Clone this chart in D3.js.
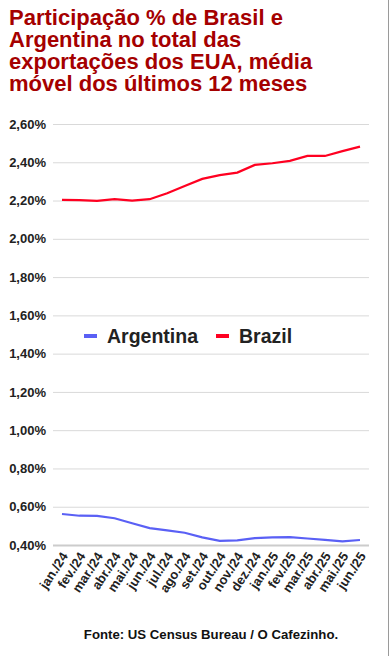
<!DOCTYPE html>
<meta charset="utf-8">
<style>
  body { margin: 0; background: #fff; }
  svg { font-family: "Liberation Sans", Arial, sans-serif; display: block; }
  .grid line { stroke: #d9d9d9; stroke-width: 1; }
  .tick text { font-weight: bold; fill: #222; }
</style>
<svg id="chart" width="390" height="656"></svg>
<script src="https://d3js.org/d3.v7.min.js"></script>
<script>
// data
var months = ["jan./24","fev./24","mar./24","abr./24","mai./24","jun./24","jul./24","ago./24","set./24",
              "out./24","nov./24","dez./24","jan./25","fev./25","mar./25","abr./25","mai./25","jun./25"]
var argentina = [0.562,0.553,0.552,0.540,0.514,0.488,0.476,0.464,0.440,0.422,0.424,0.436,0.440,0.441,0.434,0.427,0.419,0.426]
var brazil = [2.203,2.202,2.198,2.207,2.200,2.207,2.238,2.276,2.313,2.333,2.346,2.386,2.395,2.407,2.433,2.433,2.458,2.482]
var yTicks = [0.4,0.6,0.8,1.0,1.2,1.4,1.6,1.8,2.0,2.2,2.4,2.6]
var titleLines = ["Participação % de Brasil e","Argentina no total das","exportações dos EUA, média","móvel dos últimos 12 meses"]

var svg = d3.select("#chart")

var x = d3.scalePoint().domain(months).range([62, 360])
var y = d3.scaleLinear().domain([0.4, 2.6]).range([545, 124])

// title
svg.append("text")
  .attr("x", 9).attr("y", 25)
  .style("font-size", "22px").style("font-weight", "bold").style("fill", "#a50000")
  .selectAll("tspan").data(titleLines).enter().append("tspan")
  .attr("x", 9).attr("dy", function(d, i) { return i ? 22 : 0 })
  .text(function(d) { return d })

// gridlines + y labels
var yAxis = svg.append("g").attr("class", "grid").attr("transform", "translate(53,0)")
  .call(d3.axisLeft(y).tickValues(yTicks).tickSize(-316).tickPadding(7)
    .tickFormat(function(d) { return d.toFixed(2).replace(".", ",") + "%" }))
yAxis.select(".domain").remove()
yAxis.selectAll("text").style("font-size", "13px")
yAxis.selectAll(".tick").filter(function(d) { return d === 0.4 }).select("line").style("stroke", "#cccccc").style("stroke-width", 2)

// x labels
var xAxis = svg.append("g").attr("transform", "translate(0,547)")
  .call(d3.axisBottom(x).tickSize(0).tickPadding(0))
xAxis.select(".domain").remove()
xAxis.selectAll("text")
  .style("font-size", "13px")
  .attr("text-anchor", "end")
  .attr("dy", null).attr("y", 0)
  .attr("transform", "translate(6,9) rotate(-57)")

// lines
var line = d3.line()
  .x(function(d, i) { return x(months[i]) })
  .y(function(d) { return y(d) })

svg.append("path").datum(argentina)
  .attr("d", line).attr("fill", "none").attr("stroke", "#5a60f5").attr("stroke-width", 2.2)
svg.append("path").datum(brazil)
  .attr("d", line).attr("fill", "none").attr("stroke", "#ff0021").attr("stroke-width", 2.2)

// legend
var legend = [{name: "Argentina", color: "#5a60f5", x: 84}, {name: "Brazil", color: "#ff0021", x: 216}]
var lg = svg.selectAll(".lg").data(legend).enter().append("g")
  .attr("transform", function(d) { return "translate(" + d.x + ",336)" })
lg.append("rect").attr("x", 0).attr("y", -2).attr("width", 13).attr("height", 4).attr("fill", function(d) { return d.color })
lg.append("text").attr("x", 23).attr("y", 7)
  .style("font-size", "19.5px").style("font-weight", "bold").style("fill", "#222")
  .text(function(d) { return d.name })

// footer
svg.append("text").attr("x", 211).attr("y", 639).attr("text-anchor", "middle")
  .style("font-size", "13.2px").style("font-weight", "bold").style("fill", "#111")
  .text("Fonte: US Census Bureau / O Cafezinho.")

// right border
svg.append("line").attr("x1", 388.5).attr("x2", 388.5).attr("y1", 0).attr("y2", 656)
  .attr("stroke", "#9a9a9a").attr("stroke-width", 1)
</script>
